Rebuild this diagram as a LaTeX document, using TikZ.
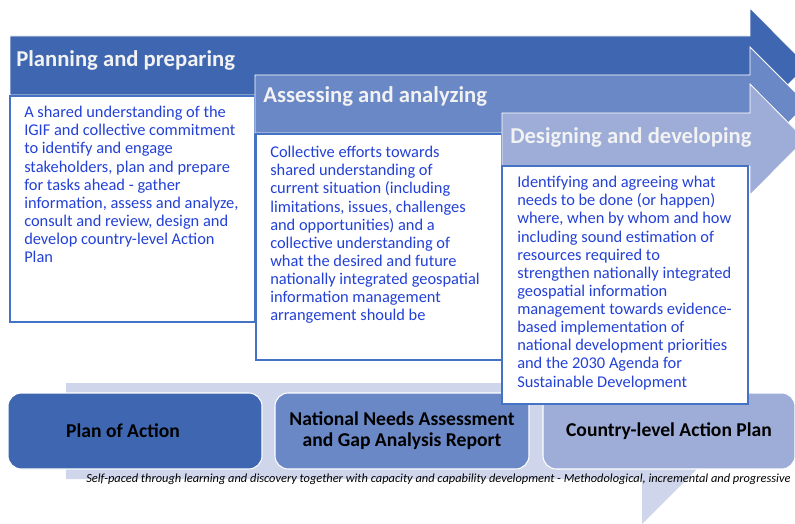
\documentclass[tikz,border=0pt]{standalone}
\usepackage{fontspec}
\setmainfont{Carlito}
\usepackage{xcolor}
\usepackage{tikz}
\usetikzlibrary{calc, positioning}

\definecolor{stepdark}{RGB}{63,103,177}
\definecolor{stepmid}{RGB}{106,135,198}
\definecolor{steplight}{RGB}{158,173,216}
\definecolor{bandpale}{RGB}{207,213,234}
\definecolor{boxline}{RGB}{68,114,196}
\definecolor{bodyblue}{RGB}{35,65,215}

\begin{document}
\begin{tikzpicture}[x=0.75pt, y=-0.75pt,
    stage/.style={draw=white, line width=0.6pt},
    heading/.style={anchor=base west, inner sep=0, text=white!95!black,
        font=\fontsize{17}{20}\selectfont\bfseries},
    bodybox/.style={draw=boxline, fill=white, line width=0.8pt},
    bodytext/.style={anchor=north west, inner sep=0, align=left, text=bodyblue,
        font=\fontsize{12.3}{13.6}\selectfont},
    result/.style={rounded corners=10pt, draw=white, line width=0.8pt,
        minimum height=57pt, align=center,
        font=\fontsize{14.7}{15.75}\selectfont\bfseries}]
    \useasboundingbox (0,0) rectangle (795,524);
    \clip (0,0) rectangle (795,524);

    % Mũi tên nền
    \fill[bandpale] (66,383) -- (642,383) -- (642,336) -- (736,430)
        -- (642,524) -- (642,479) -- (66,479) -- cycle;
    \node[anchor=base west, inner sep=0, font=\fontsize{9.3}{11}\selectfont\itshape]
        (note) at (86,482) {Self-paced through learning and discovery together with capacity and capability development - Methodological, incremental and progressive};

    % Kết quả
    \node[result, fill=stepdark, minimum width=190.5pt] (plan) at (135,431) {};
    \node[font=\fontsize{14.7}{15.75}\selectfont\bfseries] (plantext) at (123,431) {Plan of Action};
    \node[result, fill=stepmid, minimum width=190.5pt] (needs) at (402,431)
        {National Needs Assessment\\and Gap Analysis Report};
    \node[result, fill=steplight, minimum width=189pt] (country) at (669,431) {Country-level Action Plan};

    % Giai đoạn 1
    \draw[stage, fill=stepdark] (10,36) -- (750,36) -- (750,8) -- (807,65.5)
        -- (750,123) -- (750,95) -- (10,95) -- cycle;
    \node[heading] (planning) at (16,67) {Planning and preparing};
    \draw[bodybox] (10,96) rectangle (255,322);
    \node[bodytext] (planningtext) at (24,106) {A shared understanding of the\\
        IGIF and collective commitment\\to identify and engage\\
        stakeholders, plan and prepare\\for tasks ahead - gather\\
        information, assess and analyze,\\consult and review, design and\\
        develop country-level Action\\Plan};

    % Giai đoạn 2
    \draw[stage, fill=stepmid] (255,75) -- (750,75) -- (750,47) -- (807,104)
        -- (750,161) -- (750,133) -- (255,133) -- cycle;
    \node[heading] (assessing) at (263,103) {Assessing and analyzing};
    \draw[bodybox] (256,134) rectangle (502,360);
    \node[bodytext] (assessingtext) at (270,146) {Collective efforts towards\\
        shared understanding of\\current situation (including\\
        limitations, issues, challenges\\and opportunities) and a\\
        collective understanding of\\what the desired and future\\
        nationally integrated geospatial\\information management\\
        arrangement should be};

    % Giai đoạn 3
    \draw[stage, fill=steplight] (502,113) -- (750,113) -- (750,84) -- (805,139.5)
        -- (750,195) -- (750,166) -- (502,166) -- cycle;
    \node[heading] (designing) at (510,143) {Designing and developing};
    \draw[bodybox] (502,166) rectangle (748,404);
    \node[bodytext] (designingtext) at (517,176) {Identifying and agreeing what\\
        needs to be done (or happen)\\where, when by whom and how\\
        including sound estimation of\\resources required to\\
        strengthen nationally integrated\\geospatial information\\
        management towards evidence-\\based implementation of\\
        national development priorities\\and the 2030 Agenda for\\
        Sustainable Development};
\end{tikzpicture}
\end{document}
